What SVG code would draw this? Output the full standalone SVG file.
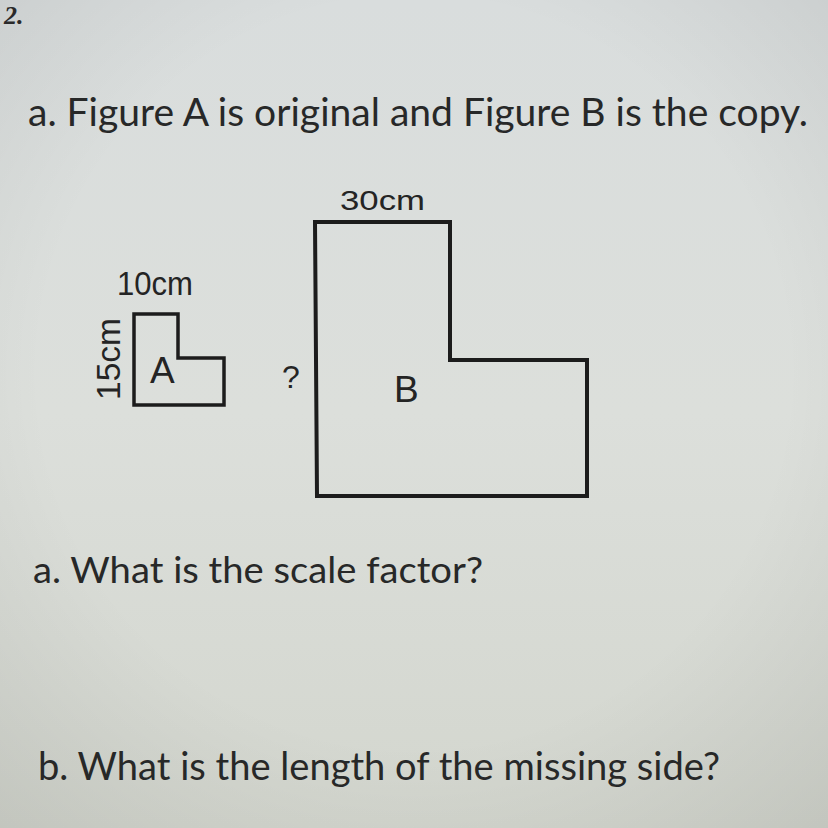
<svg xmlns="http://www.w3.org/2000/svg" width="828" height="828" viewBox="0 0 828 828">
  <defs>
    <linearGradient id="bg" x1="0" y1="0" x2="0" y2="1">
      <stop offset="0" stop-color="#d9dddd"/>
      <stop offset="0.5" stop-color="#dcdfdb"/>
      <stop offset="1" stop-color="#d3d6ce"/>
    </linearGradient>
    <radialGradient id="vig" cx="0.5" cy="0.45" r="0.75">
      <stop offset="0.6" stop-color="#000" stop-opacity="0"/>
      <stop offset="1" stop-color="#000" stop-opacity="0.08"/>
    </radialGradient>
    <style>
      .q { font-family: Lato, "Open Sans", "Noto Sans", sans-serif; fill: #272828; }
      .lbl { font-family: "Liberation Sans", Arial, sans-serif; fill: #242424; }
      .shape { fill: none; stroke: #1c1c1c; stroke-linejoin: miter; }
    </style>
  </defs>
  <rect width="828" height="828" fill="url(#bg)"/>
  <rect width="828" height="828" fill="url(#vig)"/>

  <g id="number">
    <text x="4" y="24" font-family="Liberation Serif, serif" font-weight="bold" font-style="italic" font-size="26" fill="#2a2a2a">2.</text>
  </g>

  <g id="title">
    <text class="q" x="28" y="126" font-size="39" textLength="780" lengthAdjust="spacingAndGlyphs">a.  Figure A is original and Figure B is the copy.</text>
  </g>

  <g id="figureA">
    <path class="shape" stroke-width="3.5" d="M134,314 H178 V358 H224 V405 H134 Z"/>
    <text class="lbl" x="150" y="383" font-size="37">A</text>
    <text class="lbl" x="117" y="295" font-size="33" textLength="76" lengthAdjust="spacingAndGlyphs">10cm</text>
    <text class="lbl" transform="translate(120,400) rotate(-90)" font-size="33" textLength="82" lengthAdjust="spacingAndGlyphs">15cm</text>
  </g>

  <g id="missing">
    <text class="lbl" x="282" y="388" font-size="32">?</text>
  </g>

  <g id="figureB">
    <path class="shape" stroke-width="4" d="M315,222 H450 V360 H587 V496 H317 Z"/>
    <text class="lbl" x="394" y="402" font-size="37">B</text>
    <text class="lbl" x="340" y="210" font-size="28" textLength="85" lengthAdjust="spacingAndGlyphs">30cm</text>
  </g>

  <g id="questionA">
    <text class="q" x="33" y="583" font-size="36" textLength="450" lengthAdjust="spacingAndGlyphs">a.  What is the scale factor?</text>
  </g>

  <g id="questionB">
    <text class="q" x="38" y="780" font-size="39" textLength="682" lengthAdjust="spacingAndGlyphs">b. What is the length of the missing side?</text>
  </g>
</svg>
